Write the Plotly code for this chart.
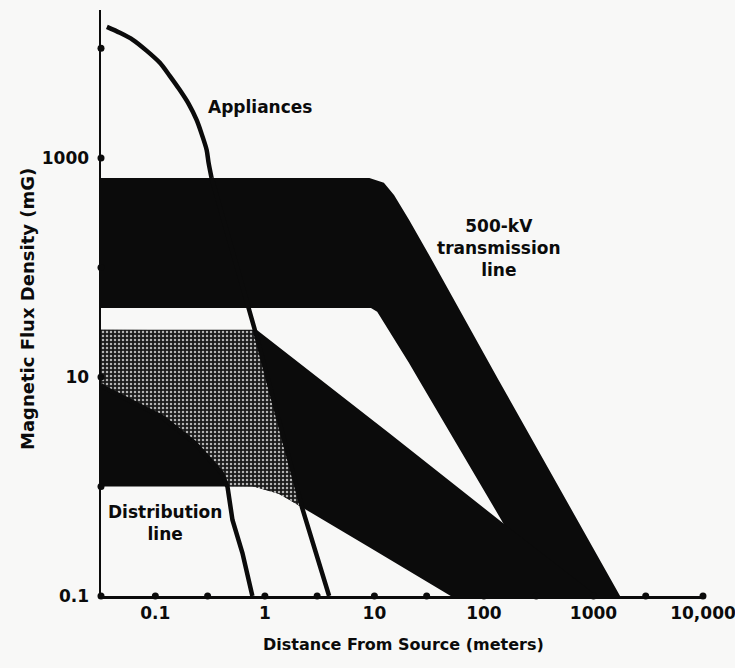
import numpy as np
import plotly.graph_objects as go

# ---------------- data (distance in m, flux density in mG) ----------------
X_MIN = 0.0319
X_MAX = 10000
Y_MIN = 0.1
Y_MAX = 22400

# 500-kV transmission line band (outer / inner envelope)
trans_outer_x = [0.0319, 9.0, 12.2, 15.1, 20.7, 33.5, 136, 1750]
trans_outer_y = [656, 656, 592, 459, 272, 117, 9.4, 0.1]
trans_inner_x = [0.0319, 9.3, 10.6, 20.7, 25.5, 145, 357]
trans_inner_y = [42.7, 42.7, 39.3, 13.4, 9.4, 0.49, 0.1]

# Distribution line band (top / bottom envelope)
dist_top_x = [0.0319, 0.84, 13.6, 145, 1080]
dist_top_y = [26.9, 26.9, 3.08, 0.474, 0.1]
dist_bot_x = [0.0319, 0.80, 1.36, 2.2, 8.9, 49.8]
dist_bot_y = [1.0, 1.0, 0.855, 0.637, 0.28, 0.1]

# Appliances (upper and lower envelope curves)
app_hi_x = [0.0361, 0.0475, 0.0623, 0.0836, 0.110, 0.1353, 0.1667, 0.2014, 0.238,
            0.2646, 0.294, 0.3063, 0.326, 0.693, 0.80, 2.19, 3.86]
app_hi_y = [15700, 13855, 11970, 9489, 7380, 5610, 4180, 3113, 2220,
            1657, 1183, 900, 656, 43.6, 28, 0.637, 0.1]
app_lo_x = [0.0319, 0.0345, 0.115, 0.229, 0.403, 0.456, 0.506, 0.624, 0.769]
app_lo_y = [8.45, 7.94, 4.32, 2.5, 1.33, 0.99, 0.494, 0.247, 0.1]

# Axes ticks
x_tick_vals = [0.1, 1, 10, 100, 1000, 10000]
x_tick_text = ["0.1", "1", "10", "100", "1000", "10,000"]
x_dot_vals = [0.1, 0.3, 1, 3, 10, 30, 100, 300, 1000, 3000, 10000]
y_tick_vals = [0.1, 10, 1000]
y_tick_text = ["0.1", "10", "1000"]
y_dot_vals = [0.1, 1, 10, 100, 1000, 10000]

# Labels (data coordinates)
labels = [
    ("Appliances", 0.911, 2920),
    ("500-kV<br>transmission<br>line", 136.5, 151),
    ("Distribution<br>line", 0.1217, 0.465),
]

# ---------------- figure ----------------
BG = "#f8f8f7"
INK = "#0b0b0b"
FONT = dict(family="DejaVu Sans", size=17, color=INK, weight="bold")

fig = go.Figure()

# transmission band polygon
fig.add_trace(go.Scatter(
    x=trans_outer_x + trans_inner_x[::-1],
    y=trans_outer_y + trans_inner_y[::-1],
    fill="toself", fillcolor=INK, line=dict(width=0), mode="lines",
    hoverinfo="skip"))

# distribution band polygon
fig.add_trace(go.Scatter(
    x=dist_top_x + dist_bot_x[::-1],
    y=dist_top_y + dist_bot_y[::-1],
    fill="toself", fillcolor=INK, line=dict(width=0), mode="lines",
    hoverinfo="skip"))

# overlap of appliances range with distribution band (stippled)
def ll_interp(x, xs, ys, left=None, right=None):
    return np.interp(np.log10(x), np.log10(xs), np.log10(ys), left=left, right=right)

g = np.logspace(np.log10(X_MIN), np.log10(2.6), 900)
top = np.minimum(ll_interp(g, dist_top_x, dist_top_y), ll_interp(g, app_hi_x, app_hi_y))
bot = np.maximum(ll_interp(g, dist_bot_x, dist_bot_y), ll_interp(g, app_lo_x, app_lo_y, right=-9))
top = np.maximum(top, bot)
fig.add_trace(go.Scatter(
    x=np.concatenate([g, g[::-1]]),
    y=10 ** np.concatenate([top, bot[::-1]]),
    fill="toself", mode="lines", line=dict(width=0),
    fillcolor="#1c1c1c",
    fillpattern=dict(shape=".", fgcolor="#b4b4b4", bgcolor="#1a1a1a",
                     size=4, solidity=0.3, fillmode="replace"),
    hoverinfo="skip"))

# appliance curves (smooth upper part, straight fall-off part)
K = 13
fig.add_trace(go.Scatter(x=app_hi_x[:K], y=app_hi_y[:K], mode="lines",
                         line=dict(color=INK, width=4.5, shape="spline", smoothing=0.8),
                         hoverinfo="skip"))
fig.add_trace(go.Scatter(x=app_hi_x[K - 1:], y=app_hi_y[K - 1:], mode="lines",
                         line=dict(color=INK, width=4.5), hoverinfo="skip"))
fig.add_trace(go.Scatter(x=app_lo_x, y=app_lo_y, mode="lines",
                         line=dict(color=INK, width=4.5), hoverinfo="skip"))

# axis dots
fig.add_trace(go.Scatter(x=x_dot_vals, y=[Y_MIN] * len(x_dot_vals), mode="markers",
                         marker=dict(color=INK, size=7), cliponaxis=False, hoverinfo="skip"))
fig.add_trace(go.Scatter(x=[X_MIN] * len(y_dot_vals), y=y_dot_vals, mode="markers",
                         marker=dict(color=INK, size=7), cliponaxis=False, hoverinfo="skip"))

for text, lx, ly in labels:
    fig.add_annotation(x=np.log10(lx), y=np.log10(ly), xref="x", yref="y", text=text,
                       showarrow=False, font=FONT, align="center")

fig.add_annotation(x=0.5025, y=-0.0836, xref="paper", yref="paper",
                   text="Distance From Source (meters)", showarrow=False,
                   font=dict(FONT, size=16), xanchor="center", yanchor="middle")
fig.add_annotation(x=-0.121, y=0.49, xref="paper", yref="paper",
                   text="Magnetic Flux Density (mG)", showarrow=False, textangle=-90,
                   font=dict(FONT, size=18), xanchor="center", yanchor="middle")

fig.update_layout(
    width=735, height=668,
    margin=dict(l=101, r=32, t=10, b=72),
    paper_bgcolor=BG, plot_bgcolor=BG, showlegend=False,
)
fig.update_xaxes(type="log", range=[np.log10(X_MIN), np.log10(X_MAX) + 1e-4],
                 showgrid=False, zeroline=False, showline=True, linecolor=INK, linewidth=2.5,
                 ticks="", tickvals=x_tick_vals, ticktext=x_tick_text, tickfont=FONT,
                 ticklabelstandoff=0, automargin=False, ticklabeloverflow="allow")
fig.update_yaxes(type="log", range=[np.log10(Y_MIN), np.log10(Y_MAX)],
                 showgrid=False, zeroline=False, showline=True, linecolor=INK, linewidth=2.5,
                 ticks="", tickvals=y_tick_vals, ticktext=y_tick_text, tickfont=FONT,
                 ticklabelstandoff=6, automargin=False, ticklabeloverflow="allow")

fig.write_html("out.html", config={"displayModeBar": False, "staticPlot": True},
               post_script="document.body.style.margin='0px';document.body.style.overflow='hidden';")
